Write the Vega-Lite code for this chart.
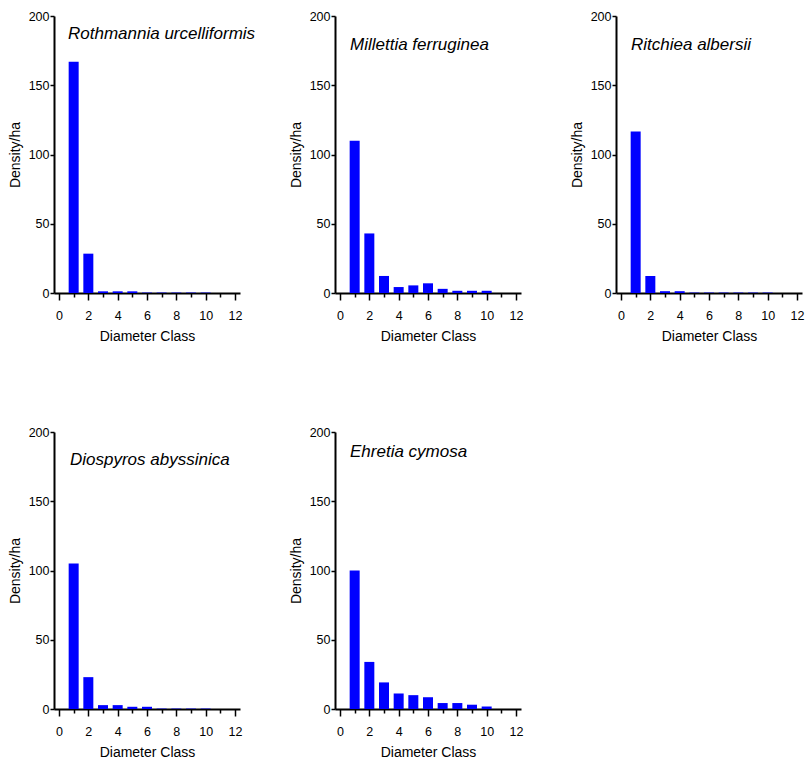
{
  "$schema": "https://vega.github.io/schema/vega-lite/v6.json",
  "padding": {"left": 8, "top": 10, "right": 5, "bottom": 5},
  "background": "white",
  "bounds": "flush",
  "columns": 3,
  "spacing": {"row": 139, "column": 95},
  "data": {"values": [
    {"species": "Rothmannia urcelliformis", "cls": 1, "density": 167},
    {"species": "Rothmannia urcelliformis", "cls": 2, "density": 28.4},
    {"species": "Rothmannia urcelliformis", "cls": 3, "density": 1.2},
    {"species": "Rothmannia urcelliformis", "cls": 4, "density": 1.2},
    {"species": "Rothmannia urcelliformis", "cls": 5, "density": 1.2},
    {"species": "Rothmannia urcelliformis", "cls": 6, "density": 0.3},
    {"species": "Rothmannia urcelliformis", "cls": 7, "density": 0.3},
    {"species": "Rothmannia urcelliformis", "cls": 8, "density": 0.3},
    {"species": "Rothmannia urcelliformis", "cls": 9, "density": 0.3},
    {"species": "Rothmannia urcelliformis", "cls": 10, "density": 0.3},
    {"species": "Millettia ferruginea", "cls": 1, "density": 110},
    {"species": "Millettia ferruginea", "cls": 2, "density": 43},
    {"species": "Millettia ferruginea", "cls": 3, "density": 12.3},
    {"species": "Millettia ferruginea", "cls": 4, "density": 4.3},
    {"species": "Millettia ferruginea", "cls": 5, "density": 5.5},
    {"species": "Millettia ferruginea", "cls": 6, "density": 7},
    {"species": "Millettia ferruginea", "cls": 7, "density": 3},
    {"species": "Millettia ferruginea", "cls": 8, "density": 1.6},
    {"species": "Millettia ferruginea", "cls": 9, "density": 1.6},
    {"species": "Millettia ferruginea", "cls": 10, "density": 1.6},
    {"species": "Ritchiea albersii", "cls": 1, "density": 116.6},
    {"species": "Ritchiea albersii", "cls": 2, "density": 12.2},
    {"species": "Ritchiea albersii", "cls": 3, "density": 1.3},
    {"species": "Ritchiea albersii", "cls": 4, "density": 1.3},
    {"species": "Ritchiea albersii", "cls": 5, "density": 0.3},
    {"species": "Ritchiea albersii", "cls": 6, "density": 0.3},
    {"species": "Ritchiea albersii", "cls": 7, "density": 0.3},
    {"species": "Ritchiea albersii", "cls": 8, "density": 0.3},
    {"species": "Ritchiea albersii", "cls": 9, "density": 0.3},
    {"species": "Ritchiea albersii", "cls": 10, "density": 0.3},
    {"species": "Diospyros abyssinica", "cls": 1, "density": 105},
    {"species": "Diospyros abyssinica", "cls": 2, "density": 23},
    {"species": "Diospyros abyssinica", "cls": 3, "density": 2.8},
    {"species": "Diospyros abyssinica", "cls": 4, "density": 2.8},
    {"species": "Diospyros abyssinica", "cls": 5, "density": 1.6},
    {"species": "Diospyros abyssinica", "cls": 6, "density": 1.6},
    {"species": "Diospyros abyssinica", "cls": 7, "density": 0.3},
    {"species": "Diospyros abyssinica", "cls": 8, "density": 0.3},
    {"species": "Diospyros abyssinica", "cls": 9, "density": 0.3},
    {"species": "Diospyros abyssinica", "cls": 10, "density": 0.3},
    {"species": "Ehretia cymosa", "cls": 1, "density": 100},
    {"species": "Ehretia cymosa", "cls": 2, "density": 34},
    {"species": "Ehretia cymosa", "cls": 3, "density": 19.2},
    {"species": "Ehretia cymosa", "cls": 4, "density": 11.2},
    {"species": "Ehretia cymosa", "cls": 5, "density": 10},
    {"species": "Ehretia cymosa", "cls": 6, "density": 8.5},
    {"species": "Ehretia cymosa", "cls": 7, "density": 4.3},
    {"species": "Ehretia cymosa", "cls": 8, "density": 4.3},
    {"species": "Ehretia cymosa", "cls": 9, "density": 3.1},
    {"species": "Ehretia cymosa", "cls": 10, "density": 1.8}
  ]},
  "concat": [
      {"width": 186, "height": 277,
       "title": {"text": "Rothmannia urcelliformis", "frame": "group", "baseline": "alphabetic", "offset": -46, "dx": 14},
       "transform": [{"filter": "datum.species === 'Rothmannia urcelliformis'"}],
       "layer": [
         {"mark": {"type": "bar", "color": "#0000ff", "width": 10},
          "encoding": {
            "x": {"field": "cls", "type": "quantitative", "scale": {"domain": [0, 12], "nice": false, "zero": false}, "axis": {"values": [0, 2, 4, 6, 8, 10, 12], "tickSize": 7, "labelPadding": 9, "title": "Diameter Class", "titlePadding": 8}},
            "y": {"field": "density", "type": "quantitative", "scale": {"domain": [0, 200], "nice": false}, "axis": {"values": [0, 50, 100, 150, 200], "tickSize": 4, "labelPadding": 1, "title": "Density/ha", "titlePadding": 6}}}},
         {"mark": {"type": "bar", "opacity": 0, "width": 10},
          "encoding": {
            "x": {"field": "cls", "type": "quantitative", "scale": {"domain": [0, 12], "nice": false, "zero": false}, "axis": {"orient": "bottom", "values": [1, 3, 5, 7, 9, 11], "tickSize": 4, "labels": false, "domain": false, "title": null}},
            "y": {"field": "density", "type": "quantitative", "scale": {"domain": [0, 200], "nice": false}, "axis": {"values": [0, 50, 100, 150, 200], "tickSize": 4, "labelPadding": 1, "title": "Density/ha", "titlePadding": 6}}}}
       ],
       "resolve": {"axis": {"x": "independent"}}},
      {"width": 186, "height": 277,
       "title": {"text": "Millettia ferruginea", "frame": "group", "baseline": "alphabetic", "offset": -57, "dx": 15},
       "transform": [{"filter": "datum.species === 'Millettia ferruginea'"}],
       "layer": [
         {"mark": {"type": "bar", "color": "#0000ff", "width": 10},
          "encoding": {
            "x": {"field": "cls", "type": "quantitative", "scale": {"domain": [0, 12], "nice": false, "zero": false}, "axis": {"values": [0, 2, 4, 6, 8, 10, 12], "tickSize": 7, "labelPadding": 9, "title": "Diameter Class", "titlePadding": 8}},
            "y": {"field": "density", "type": "quantitative", "scale": {"domain": [0, 200], "nice": false}, "axis": {"values": [0, 50, 100, 150, 200], "tickSize": 4, "labelPadding": 1, "title": "Density/ha", "titlePadding": 6}}}},
         {"mark": {"type": "bar", "opacity": 0, "width": 10},
          "encoding": {
            "x": {"field": "cls", "type": "quantitative", "scale": {"domain": [0, 12], "nice": false, "zero": false}, "axis": {"orient": "bottom", "values": [1, 3, 5, 7, 9, 11], "tickSize": 4, "labels": false, "domain": false, "title": null}},
            "y": {"field": "density", "type": "quantitative", "scale": {"domain": [0, 200], "nice": false}, "axis": {"values": [0, 50, 100, 150, 200], "tickSize": 4, "labelPadding": 1, "title": "Density/ha", "titlePadding": 6}}}}
       ],
       "resolve": {"axis": {"x": "independent"}}},
      {"width": 186, "height": 277,
       "title": {"text": "Ritchiea albersii", "frame": "group", "baseline": "alphabetic", "offset": -57, "dx": 15},
       "transform": [{"filter": "datum.species === 'Ritchiea albersii'"}],
       "layer": [
         {"mark": {"type": "bar", "color": "#0000ff", "width": 10},
          "encoding": {
            "x": {"field": "cls", "type": "quantitative", "scale": {"domain": [0, 12], "nice": false, "zero": false}, "axis": {"values": [0, 2, 4, 6, 8, 10, 12], "tickSize": 7, "labelPadding": 9, "title": "Diameter Class", "titlePadding": 8}},
            "y": {"field": "density", "type": "quantitative", "scale": {"domain": [0, 200], "nice": false}, "axis": {"values": [0, 50, 100, 150, 200], "tickSize": 4, "labelPadding": 1, "title": "Density/ha", "titlePadding": 6}}}},
         {"mark": {"type": "bar", "opacity": 0, "width": 10},
          "encoding": {
            "x": {"field": "cls", "type": "quantitative", "scale": {"domain": [0, 12], "nice": false, "zero": false}, "axis": {"orient": "bottom", "values": [1, 3, 5, 7, 9, 11], "tickSize": 4, "labels": false, "domain": false, "title": null}},
            "y": {"field": "density", "type": "quantitative", "scale": {"domain": [0, 200], "nice": false}, "axis": {"values": [0, 50, 100, 150, 200], "tickSize": 4, "labelPadding": 1, "title": "Density/ha", "titlePadding": 6}}}}
       ],
       "resolve": {"axis": {"x": "independent"}}},
      {"width": 186, "height": 277,
       "title": {"text": "Diospyros abyssinica", "frame": "group", "baseline": "alphabetic", "offset": -56, "dx": 16},
       "transform": [{"filter": "datum.species === 'Diospyros abyssinica'"}],
       "layer": [
         {"mark": {"type": "bar", "color": "#0000ff", "width": 10},
          "encoding": {
            "x": {"field": "cls", "type": "quantitative", "scale": {"domain": [0, 12], "nice": false, "zero": false}, "axis": {"values": [0, 2, 4, 6, 8, 10, 12], "tickSize": 7, "labelPadding": 9, "title": "Diameter Class", "titlePadding": 8}},
            "y": {"field": "density", "type": "quantitative", "scale": {"domain": [0, 200], "nice": false}, "axis": {"values": [0, 50, 100, 150, 200], "tickSize": 4, "labelPadding": 1, "title": "Density/ha", "titlePadding": 6}}}},
         {"mark": {"type": "bar", "opacity": 0, "width": 10},
          "encoding": {
            "x": {"field": "cls", "type": "quantitative", "scale": {"domain": [0, 12], "nice": false, "zero": false}, "axis": {"orient": "bottom", "values": [1, 3, 5, 7, 9, 11], "tickSize": 4, "labels": false, "domain": false, "title": null}},
            "y": {"field": "density", "type": "quantitative", "scale": {"domain": [0, 200], "nice": false}, "axis": {"values": [0, 50, 100, 150, 200], "tickSize": 4, "labelPadding": 1, "title": "Density/ha", "titlePadding": 6}}}}
       ],
       "resolve": {"axis": {"x": "independent"}}},
      {"width": 186, "height": 277,
       "title": {"text": "Ehretia cymosa", "frame": "group", "baseline": "alphabetic", "offset": -48, "dx": 15},
       "transform": [{"filter": "datum.species === 'Ehretia cymosa'"}],
       "layer": [
         {"mark": {"type": "bar", "color": "#0000ff", "width": 10},
          "encoding": {
            "x": {"field": "cls", "type": "quantitative", "scale": {"domain": [0, 12], "nice": false, "zero": false}, "axis": {"values": [0, 2, 4, 6, 8, 10, 12], "tickSize": 7, "labelPadding": 9, "title": "Diameter Class", "titlePadding": 8}},
            "y": {"field": "density", "type": "quantitative", "scale": {"domain": [0, 200], "nice": false}, "axis": {"values": [0, 50, 100, 150, 200], "tickSize": 4, "labelPadding": 1, "title": "Density/ha", "titlePadding": 6}}}},
         {"mark": {"type": "bar", "opacity": 0, "width": 10},
          "encoding": {
            "x": {"field": "cls", "type": "quantitative", "scale": {"domain": [0, 12], "nice": false, "zero": false}, "axis": {"orient": "bottom", "values": [1, 3, 5, 7, 9, 11], "tickSize": 4, "labels": false, "domain": false, "title": null}},
            "y": {"field": "density", "type": "quantitative", "scale": {"domain": [0, 200], "nice": false}, "axis": {"values": [0, 50, 100, 150, 200], "tickSize": 4, "labelPadding": 1, "title": "Density/ha", "titlePadding": 6}}}}
       ],
       "resolve": {"axis": {"x": "independent"}}}
  ],
  "config": {
    "view": {"stroke": null},
    "font": "Liberation Sans",
    "title": {"font": "Liberation Sans", "fontSize": 17, "fontStyle": "italic", "fontWeight": "normal", "color": "#000", "anchor": "start"},
    "axis": {"labelFont": "Liberation Sans", "titleFont": "Liberation Sans", "labelColor": "#000", "titleColor": "#000", "domainColor": "#000", "tickColor": "#000", "grid": false, "labelFlush": false, "labelFontSize": 12.5, "titleFontSize": 14, "titleFontWeight": "normal", "domainWidth": 2, "tickWidth": 1.5}
  }
}
